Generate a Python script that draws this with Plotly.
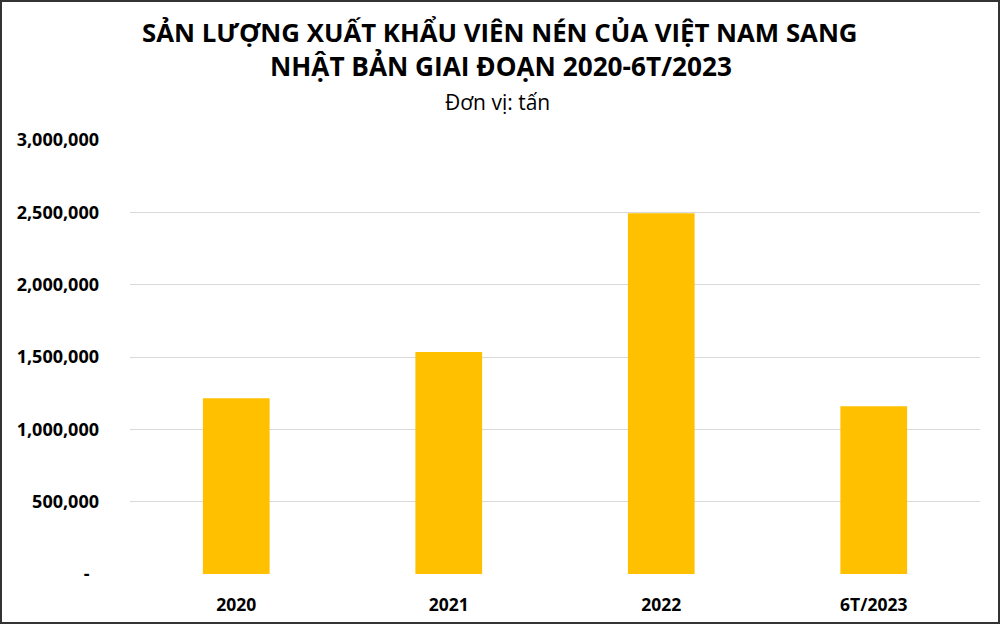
import plotly.graph_objects as go

categories = ["2020", "2021", "2022", "6T/2023"]
values = [1214000, 1534000, 2493000, 1159000]
tick_vals = [0, 500000, 1000000, 1500000, 2000000, 2500000, 3000000]
tick_text = ["-\u00a0\u00a0", "500,000", "1,000,000", "1,500,000", "2,000,000", "2,500,000", "3,000,000"]
title_lines = ["SẢN LƯỢNG XUẤT KHẨU VIÊN NÉN CỦA VIỆT NAM SANG", "NHẬT BẢN GIAI ĐOẠN 2020-6T/2023"]
subtitle = "Đơn vị: tấn"

W, H = 1000, 624
L, R, T, B = 130, 20, 140, 50
ph = H - T - B
pw = W - L - R

def py(ypix):
    return (H - B - ypix) / ph

def px(xpix):
    return (xpix - L) / pw

FONT = "Open Sans"

fig = go.Figure(go.Bar(
    x=categories, y=values,
    marker=dict(color="#FFC000", line=dict(width=0)),
    width=0.314,
))

annotations = [
    dict(text=f"<b>{title_lines[0]}</b>", x=px(500), xref="paper", xanchor="center",
         y=py(32), yref="paper", yanchor="middle", showarrow=False,
         font=dict(family=FONT, size=25.8, color="#000000")),
    dict(text=f"<b>{title_lines[1]}</b>", x=px(501), xref="paper", xanchor="center",
         y=py(66), yref="paper", yanchor="middle", showarrow=False,
         font=dict(family=FONT, size=26.2, color="#000000")),
    dict(text=subtitle, x=px(497), xref="paper", xanchor="center",
         y=py(102), yref="paper", yanchor="middle", showarrow=False,
         font=dict(family=FONT, size=21, color="#000000")),
]

fig.update_layout(
    width=W, height=H,
    margin=dict(l=L, r=R, t=T, b=B, pad=0, autoexpand=False),
    paper_bgcolor="white", plot_bgcolor="white",
    showlegend=False,
    annotations=annotations,
    shapes=[dict(type="rect", xref="paper", yref="paper",
                 x0=px(1), x1=px(W - 1), y0=py(H - 1), y1=py(1),
                 line=dict(color="#333333", width=2), fillcolor="rgba(0,0,0,0)", layer="above")],
    xaxis=dict(showgrid=False, showline=False, zeroline=False, ticks="",
               automargin=False,
               tickmode="array", tickvals=categories,
               ticktext=[f"<b>{c}</b>" for c in categories],
               tickfont=dict(family=FONT, size=17.5, color="#000000"),
               ticklabelstandoff=18),
    yaxis=dict(range=[0, 3000000], tickmode="array", tickvals=tick_vals,
               automargin=False,
               ticktext=[f"<b>{t}</b>" for t in tick_text],
               showgrid=True, gridcolor="#D9D9D9", gridwidth=1.3,
               zeroline=False, showline=False, ticks="",
               tickfont=dict(family=FONT, size=18, color="#000000"),
               ticklabelstandoff=30),
    font=dict(family=FONT),
)

fig.write_html("out.html")
